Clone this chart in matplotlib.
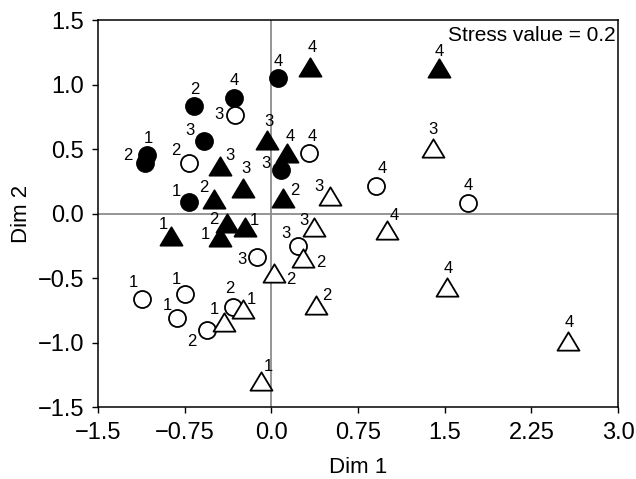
import matplotlib.pyplot as plt
from matplotlib.path import Path

plt.rcParams['font.family'] = ['Liberation Sans', 'DejaVu Sans']

# filled circles
fc_x = [-1.076, -1.093, -0.666, -0.323, -0.582, -0.712, 0.061, 0.081]
fc_y = [0.453, 0.389, 0.836, 0.898, 0.560, 0.091, 1.048, 0.337]
fc_lab = ['1', '2', '2', '4', '3', '1', '4', '3']

# open circles
oc_x = [-0.314, -0.712, -0.126, 0.326, 0.906, 1.70, -1.121, -0.747, -0.813, -0.334, -0.554, 0.234]
oc_y = [0.764, 0.389, -0.340, 0.467, 0.216, 0.079, -0.663, -0.626, -0.812, -0.722, -0.903, -0.252]
oc_lab = ['3', '2', '3', '4', '4', '4', '1', '1', '1', '2', '2', '3']

# filled triangles
ft_x = [-0.444, -0.242, -0.496, -0.040, -0.868, -0.386, -0.444, -0.228, 0.335, 1.454, 0.139, 0.099]
ft_y = [0.368, 0.200, 0.112, 0.570, -0.174, -0.076, -0.180, -0.102, 1.138, 1.125, 0.471, 0.118]
ft_lab = ['3', '3', '2', '3', '1', '2', '1', '1', '4', '4', '4', '2']

# open triangles
ot_x = [0.508, 1.397, 0.372, 0.998, 1.518, 2.570, -0.409, -0.248, 0.026, -0.092, 0.277, 0.387]
ot_y = [0.136, 0.505, -0.107, -0.128, -0.567, -0.986, -0.839, -0.743, -0.459, -1.298, -0.347, -0.709]
ot_lab = ['3', '3', '3', '4', '4', '4', '1', '1', '2', '1', '2', '2']

# label offsets (pixels) so numbers sit next to their markers
fc_off = [(1, 17), (-17, 8), (0, 16), (0, 17), (-14, 11), (-13, 10), (0, 17), (-15, 7)]
oc_off = [(-16, 0), (-13, 13), (-15, -2), (3, 17), (6, 17), (0, 18), (-8, 17), (-9, 15),
          (-10, 13), (-3, 18), (-16, -12), (-12, 13)]
ft_off = [(10, 11), (3, 19), (-10, 12), (2, 18), (-8, 11), (-13, 4), (-15, 2), (9, 6),
          (2, 19), (0, 17), (3, 16), (12, 8)]
ot_off = [(-11, 9), (0, 19), (-10, 7), (8, 15), (2, 18), (1, 18), (-10, 12), (9, 10),
          (16, -7), (8, 14), (17, -4), (11, 9)]

tri = Path([(-1.2, -1), (1.2, -1), (0, 1), (-1.2, -1)],
           [Path.MOVETO, Path.LINETO, Path.LINETO, Path.CLOSEPOLY])

fig = plt.figure(figsize=(6.36, 4.79), dpi=100)
ax = fig.add_axes([0.1541, 0.1503, 0.8176, 0.8079])

ax.axhline(0, color='#8c8c8c', lw=1.3, zorder=1)
ax.axvline(0, color='#8c8c8c', lw=1.3, zorder=1)

groups = [
    (fc_x, fc_y, fc_lab, fc_off, 'o', 'black', 150),
    (oc_x, oc_y, oc_lab, oc_off, 'o', 'white', 150),
    (ft_x, ft_y, ft_lab, ft_off, tri, 'black', 250),
    (ot_x, ot_y, ot_lab, ot_off, tri, 'white', 250),
]
for xs, ys, labs, offs, m, fcol, s in groups:
    ax.scatter(xs, ys, marker=m, s=s, facecolor=fcol, edgecolor='black',
               linewidth=1.3, zorder=3)
    for x, y, lab, off in zip(xs, ys, labs, offs):
        ax.annotate(lab, (x, y), xytext=off, textcoords='offset pixels',
                    ha='center', va='center', fontsize=12, zorder=4)

ax.text(0.995, 0.985, 'Stress value = 0.2', transform=ax.transAxes,
        ha='right', va='top', fontsize=15)

ax.set_xlim(-1.5, 3.0)
ax.set_ylim(-1.5, 1.5)
ax.set_xticks([-1.5, -0.75, 0.0, 0.75, 1.5, 2.25, 3.0])
ax.set_xticklabels(['\u22121.5', '\u22120.75', '0.0', '0.75', '1.5', '2.25', '3.0'])
ax.set_yticks([-1.5, -1.0, -0.5, 0.0, 0.5, 1.0, 1.5])
ax.set_yticklabels(['\u22121.5', '\u22121.0', '\u22120.5', '0.0', '0.5', '1.0', '1.5'])
ax.tick_params(direction='out', length=4, width=1, labelsize=17)
ax.tick_params(axis='x', pad=7)
ax.tick_params(axis='y', pad=6)
for sp in ax.spines.values():
    sp.set_linewidth(1.1)

ax.set_xlabel('Dim 1', fontsize=16, labelpad=9)
ax.set_ylabel('Dim 2', fontsize=16, labelpad=4)

fig.savefig('out.png', dpi=100)
